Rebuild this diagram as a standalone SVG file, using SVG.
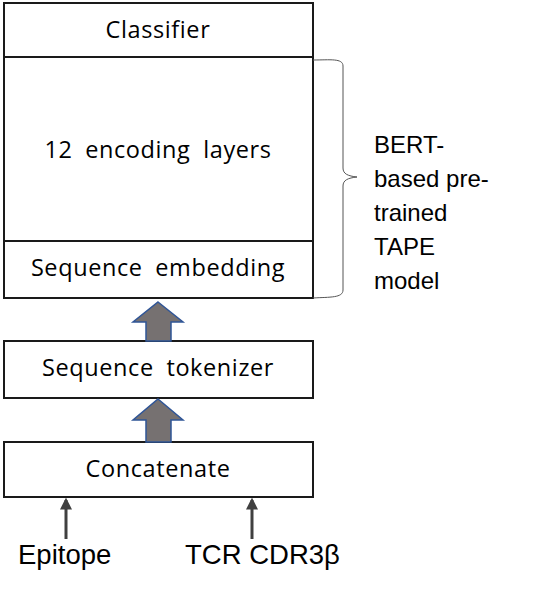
<svg xmlns="http://www.w3.org/2000/svg" width="539" height="589" viewBox="0 0 539 589">
<style>
.box{fill:#fff;stroke:#1a1a1a;stroke-width:2}
.lbl{font-family:"Open Sans","Noto Sans",sans-serif;font-size:23.5px;fill:#000;text-anchor:middle;letter-spacing:0.6px;word-spacing:6px}
.side{font-family:"Liberation Sans",Arial,sans-serif;font-size:24px;fill:#000}
.inp{font-family:"Liberation Sans",Arial,sans-serif;font-size:27.5px;fill:#000}
.big{fill:#767171;stroke:#2f5597;stroke-width:1.5}
.thin{stroke:#404040;stroke-width:3;fill:none}
</style>
<defs>
<marker id="ah" viewBox="0 0 10 10" refX="8" refY="5" markerWidth="4" markerHeight="4" orient="auto" markerUnits="strokeWidth">
<path d="M0,0 L10,5 L0,10 z" fill="#404040"/>
</marker>
</defs>
<rect width="539" height="589" fill="#fff"/>
<g id="classifier">
<rect class="box" x="4" y="3" width="309" height="54"/>
<text class="lbl" x="158" y="38">Classifier</text>
</g>
<g id="encoding">
<rect class="box" x="4" y="57" width="309" height="184"/>
<text class="lbl" x="158" y="158">12 encoding layers</text>
</g>
<g id="embedding">
<rect class="box" x="4" y="241" width="309" height="57"/>
<text class="lbl" x="158" y="276">Sequence embedding</text>
</g>
<g id="tokenizer">
<rect class="box" x="4" y="341" width="309" height="57"/>
<text class="lbl" x="158" y="376">Sequence tokenizer</text>
</g>
<g id="concatenate">
<rect class="box" x="4" y="442" width="309" height="55"/>
<text class="lbl" x="158" y="477">Concatenate</text>
</g>
<g id="brace">
<path d="M313,60 C330,60 343,58 343,66 L343,168 C343,174 348,176 357,177 C348,178 343,180 343,186 L343,290 C343,298 330,297 313,298" fill="none" stroke="#555" stroke-width="1"/>
<text class="side" x="374" y="153">BERT-</text>
<text class="side" x="374" y="187">based pre-</text>
<text class="side" x="374" y="221">trained</text>
<text class="side" x="374" y="255">TAPE</text>
<text class="side" x="374" y="289">model</text>
</g>
<g id="inputs">
<text class="inp" x="18" y="564">Epitope</text>
<text class="inp" x="185" y="564">TCR CDR3β</text>
</g>
<g id="connectors">
<path class="big" d="M158,302 L183,322 L171,322 L171,341 L146,341 L146,322 L133,322 Z"/>
<path class="big" d="M158,399 L183,420 L171,420 L171,442 L146,442 L146,420 L133,420 Z"/>
<line class="thin" x1="66" y1="539" x2="66" y2="500" marker-end="url(#ah)"/>
<line class="thin" x1="252" y1="539" x2="252" y2="500" marker-end="url(#ah)"/>
</g>
</svg>
